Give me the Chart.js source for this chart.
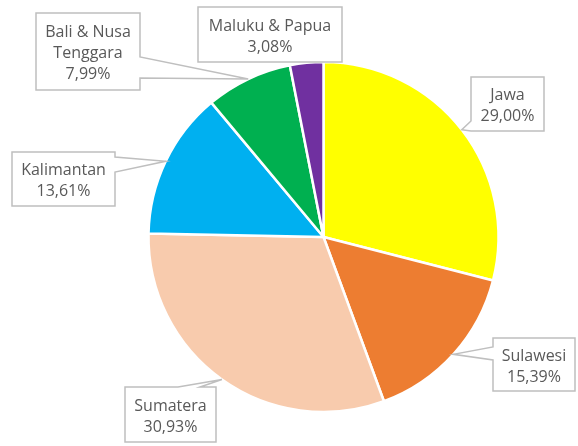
<!DOCTYPE html>
<html>
<head>
<meta charset="utf-8">
<script src="https://cdn.jsdelivr.net/npm/chart.js@4/dist/chart.umd.min.js"></script>
<style>
  html, body { margin: 0; padding: 0; background: #fff; }
  #wrap { width: 578px; height: 446px; }
</style>
</head>
<body>
<div id="wrap"><canvas id="pieChart" width="578" height="446"></canvas></div>
<script>
const regions = ['Jawa', 'Sulawesi', 'Sumatera', 'Kalimantan', ['Bali & Nusa', 'Tenggara'], 'Maluku & Papua'];
const shares = [29.00, 15.39, 30.93, 13.61, 7.99, 3.08];
const colors = ['#FFFF00', '#ED7D31', '#F8CBAD', '#00B0F0', '#00B050', '#7030A0'];

// callout boxes, placed by hand like in the original (x, y, w, h, side of the pointer, pointer base)
const boxes = [
  { x: 471, y: 77, w: 73, h: 54, side: 'left', a: 121, b: 131 },
  { x: 493, y: 338, w: 82, h: 53, side: 'left', a: 347, b: 360 },
  { x: 125, y: 387, w: 91, h: 55, side: 'top', a: 178, b: 200 },
  { x: 12, y: 152, w: 103, h: 54, side: 'right', a: 157, b: 172 },
  { x: 36, y: 13, w: 104, h: 77, side: 'right', a: 57, b: 78 },
  { x: 198, y: 7, w: 144, h: 55, side: null }
];

const calloutPlugin = {
  id: 'callouts',
  afterDatasetsDraw(chart) {
    const ctx = chart.ctx;
    const meta = chart.getDatasetMeta(0);
    ctx.save();
    meta.data.forEach((arc, i) => {
      const bx = boxes[i];
      const mid = (arc.startAngle + arc.endAngle) / 2;
      const px = arc.x + Math.cos(mid) * arc.outerRadius;
      const py = arc.y + Math.sin(mid) * arc.outerRadius;
      const r = bx.x + bx.w, btm = bx.y + bx.h;

      ctx.beginPath();
      ctx.moveTo(bx.x, bx.y);
      if (bx.side === 'top') { ctx.lineTo(bx.a, bx.y); ctx.lineTo(px, py); ctx.lineTo(bx.b, bx.y); }
      ctx.lineTo(r, bx.y);
      if (bx.side === 'right') { ctx.lineTo(r, bx.a); ctx.lineTo(px, py); ctx.lineTo(r, bx.b); }
      ctx.lineTo(r, btm);
      ctx.lineTo(bx.x, btm);
      if (bx.side === 'left') { ctx.lineTo(bx.x, bx.b); ctx.lineTo(px, py); ctx.lineTo(bx.x, bx.a); }
      ctx.closePath();
      ctx.fillStyle = '#ffffff';
      ctx.fill();
      ctx.lineWidth = 1.5;
      ctx.strokeStyle = '#BFBFBF';
      ctx.stroke();

      const name = chart.data.labels[i];
      const lines = (Array.isArray(name) ? name.slice() : [name]);
      lines.push(shares[i].toFixed(2).replace('.', ',') + '%');
      const lh = 21;
      ctx.fillStyle = '#595959';
      ctx.font = '16px "Open Sans"';
      ctx.textAlign = 'center';
      ctx.textBaseline = 'middle';
      const cy = bx.y + bx.h / 2 + 2 - (lines.length - 1) * lh / 2;
      lines.forEach((t, k) => ctx.fillText(t, bx.x + bx.w / 2, cy + k * lh));
    });
    ctx.restore();
  }
};

new Chart(document.getElementById('pieChart'), {
  type: 'pie',
  data: {
    labels: regions,
    datasets: [{
      data: shares,
      backgroundColor: colors,
      borderColor: '#ffffff',
      borderWidth: 2.5
    }]
  },
  options: {
    responsive: false,
    animation: false,
    radius: 175,
    layout: { padding: { left: 69, right: 0, top: 28, bottom: 0 } },
    plugins: {
      legend: { display: false },
      tooltip: { enabled: false }
    }
  },
  plugins: [calloutPlugin]
});
</script>
</body>
</html>
